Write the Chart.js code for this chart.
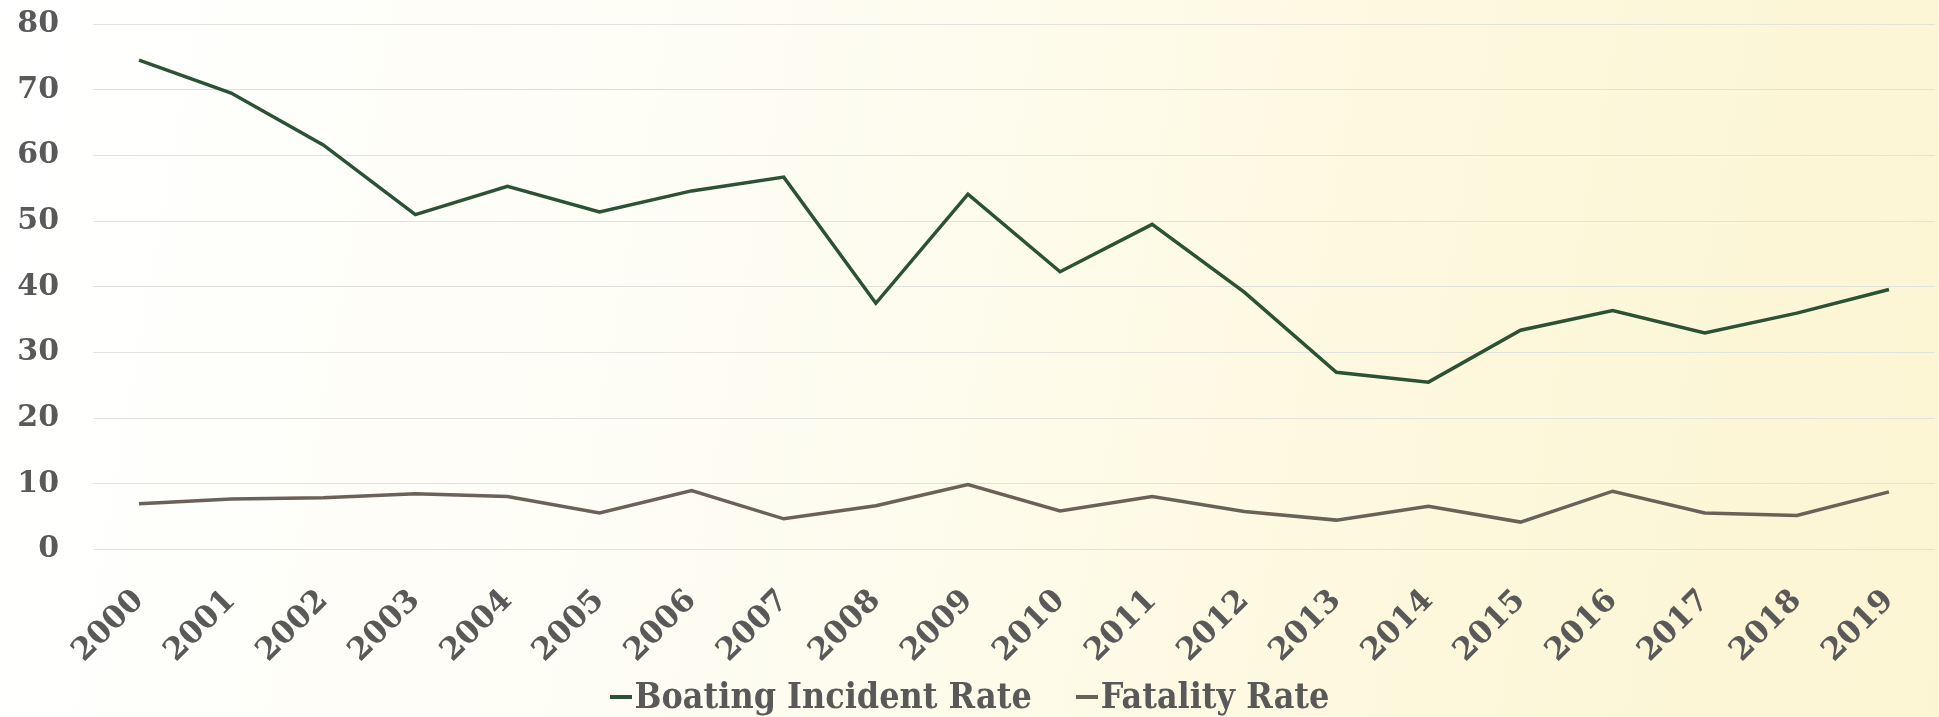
<!DOCTYPE html>
<html>
<head>
<meta charset="utf-8">
<script src="https://cdn.jsdelivr.net/npm/chart.js@4"></script>
<style>
  html, body { margin: 0; padding: 0; }
  body {
    width: 1939px; height: 717px; overflow: hidden;
    background: linear-gradient(100deg, #ffffff 0%, #fefdf5 35%, #fdf8dc 75%, #fcf5d3 100%);
  }
  #wrap { position: relative; width: 1939px; height: 717px; }
  #legend {
    position: absolute; left: 0; right: 0; top: 676px;
    display: flex; justify-content: center; gap: 44px;
    font-family: "DejaVu Serif Condensed", "Liberation Serif", serif;
    font-weight: bold; font-size: 35.5px; line-height: 40px; color: #595959;
  }
  #legend .item { display: flex; align-items: center; }
  #legend .dash { display: inline-block; width: 22px; height: 4px; margin-right: 3px; margin-top: 2px; }
</style>
</head>
<body>
<div id="wrap">
  <canvas id="rateChart"></canvas>
  <div id="legend"></div>
</div>
<script>
/* ── Data ───────────────────────────────────────────── */
const years = ['2000', '2001', '2002', '2003', '2004', '2005', '2006', '2007', '2008', '2009',
               '2010', '2011', '2012', '2013', '2014', '2015', '2016', '2017', '2018', '2019'];
const incidentRate = [74.5, 69.5, 61.6, 51.0, 55.3, 51.4, 54.6, 56.7, 37.5, 54.1,
                      42.3, 49.5, 39.2, 27.0, 25.5, 33.4, 36.4, 33.0, 36.0, 39.6];
const fatalityRate = [7.0, 7.7, 7.9, 8.5, 8.1, 5.6, 9.0, 4.7, 6.7, 9.9,
                      5.9, 8.1, 5.8, 4.5, 6.6, 4.2, 8.9, 5.6, 5.2, 8.8];
const yTicks = [0, 10, 20, 30, 40, 50, 60, 70, 80];

/* ── Palette ────────────────────────────────────────── */
const palette = {
    green: '#2b5234',
    brown: '#6b6158',
    text:  '#595959',
    grid:  '#e3e1dc',
};

const serif = '"DejaVu Serif", "Liberation Serif", serif';

const chart = new Chart(document.getElementById('rateChart'), {
    type: 'line',
    data: {
        labels: years,
        datasets: [
            {
                label: 'Boating Incident Rate',
                data: incidentRate,
                borderColor: palette.green,
                backgroundColor: palette.green,
                borderWidth: 3.5,
                pointRadius: 0,
                tension: 0,
            },
            {
                label: 'Fatality Rate',
                data: fatalityRate,
                borderColor: palette.brown,
                backgroundColor: palette.brown,
                borderWidth: 3.5,
                pointRadius: 0,
                tension: 0,
            },
        ],
    },
    options: {
        responsive: true,
        maintainAspectRatio: false,
        animation: false,
        layout: { padding: { top: 0, left: 0, right: 4, bottom: 14 } },
        plugins: {
            tooltip: { enabled: false },
            legend: { display: false },
        },
        scales: {
            x: {
                offset: true,
                afterFit: axis => { axis.paddingLeft = 0; axis.paddingRight = 0; },
                grid: { display: false, drawTicks: false },
                border: { display: false },
                ticks: {
                    color: palette.text,
                    font: { family: serif, size: 31, weight: 'bold' },
                    minRotation: 45,
                    maxRotation: 45,
                    padding: 33,
                    autoSkip: false,
                },
            },
            y: {
                min: 0,
                max: 80,
                afterBuildTicks: axis => { axis.ticks = yTicks.map(v => ({ value: v })); },
                afterFit: axis => { axis.width = 93; },
                grid: { color: palette.grid, lineWidth: 1, drawTicks: true, tickLength: 28, tickColor: 'transparent' },
                border: { display: false },
                ticks: {
                    color: palette.text,
                    font: { family: serif, size: 30, weight: 'bold' },
                    padding: 6,
                },
            },
        },
    },
});

/* ── HTML legend built from the datasets ────────────── */
const legendEl = document.getElementById('legend');
chart.data.datasets.forEach(ds => {
    const item = document.createElement('span');
    item.className = 'item';
    const dash = document.createElement('span');
    dash.className = 'dash';
    dash.style.background = ds.borderColor;
    item.appendChild(dash);
    item.appendChild(document.createTextNode(ds.label));
    legendEl.appendChild(item);
});
</script>
</body>
</html>
